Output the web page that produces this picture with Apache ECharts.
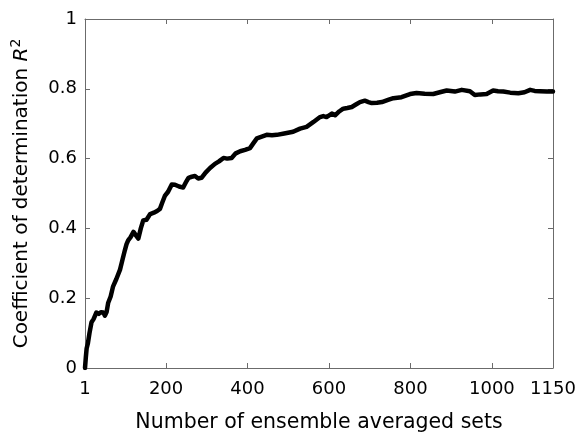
<!DOCTYPE html>
<html>
<head>
<meta charset="utf-8">
<script src="https://cdn.jsdelivr.net/npm/echarts@6/dist/echarts.min.js"></script>
<style>
html,body{margin:0;padding:0;background:#fff;}
#chart{width:584px;height:438px;}
</style>
</head>
<body>
<div id="chart"></div>
<script>
const xValues = [1,3,5,8,12,17,22,29,35,40,46,50,54,58,64,70,78,87,93,99,103,107,113,120,126,132,138,144,152,161,170,178,185,191,197,205,214,222,232,242,250,255,263,271,279,287,297,308,320,330,341,350,361,371,382,394,406,415,423,435,447,460,472,490,512,529,545,562,578,586,594,607,615,625,635,645,656,666,676,688,697,705,718,730,745,758,778,799,815,835,856,872,889,909,926,946,958,972,987,1003,1015,1028,1045,1065,1080,1094,1105,1118,1135,1150];
const r2Values = [0,0.03,0.056,0.07,0.1,0.131,0.14,0.159,0.155,0.16,0.159,0.15,0.16,0.187,0.205,0.234,0.255,0.282,0.31,0.338,0.355,0.366,0.375,0.39,0.38,0.371,0.4,0.423,0.425,0.441,0.445,0.45,0.456,0.475,0.493,0.505,0.526,0.525,0.52,0.517,0.535,0.545,0.548,0.55,0.543,0.545,0.56,0.573,0.585,0.592,0.602,0.6,0.602,0.615,0.621,0.625,0.63,0.645,0.658,0.663,0.668,0.667,0.668,0.672,0.677,0.686,0.691,0.705,0.719,0.722,0.719,0.729,0.724,0.735,0.743,0.745,0.748,0.755,0.762,0.766,0.762,0.759,0.76,0.762,0.768,0.773,0.776,0.785,0.788,0.786,0.785,0.79,0.795,0.792,0.797,0.793,0.782,0.784,0.785,0.795,0.793,0.792,0.789,0.787,0.79,0.797,0.794,0.793,0.792,0.792];
const xTicks = [1,200,400,600,800,1000,1150];
const yTicks = [0,0.2,0.4,0.6,0.8,1];
const xTitle = 'Number of ensemble averaged sets';
const yTitleText = 'Coefficient of determination ';
const yTitleVar = 'R';
const yTitleSup = '2';

const FONT = 'DejaVu Sans';
const AX = '#6b6b6b';
const chart = echarts.init(document.getElementById('chart'), null, {renderer:'canvas'});
const pts = xValues.map((x,i)=>[x, r2Values[i]]);
const yFmt = v => (v===0||v===1) ? String(v) : v.toFixed(1);

chart.setOption({
  animation:false,
  backgroundColor:'#fff',
  grid:{left:85,right:31,top:19,bottom:65,containLabel:false},
  xAxis:[{
    type:'value',min:1,max:1150,position:'bottom',
    axisLine:{show:true,onZero:false,lineStyle:{color:AX,width:1}},
    axisTick:{show:true,inside:true,length:5,customValues:xTicks,lineStyle:{color:AX}},
    axisLabel:{customValues:xTicks,color:'#000',fontFamily:FONT,fontSize:18,margin:12,formatter:v=>String(v)},
    splitLine:{show:false},
    name:xTitle,nameLocation:'middle',nameGap:44,
    nameTextStyle:{color:'#000',fontFamily:FONT,fontSize:20.5}
  },{
    type:'value',min:1,max:1150,position:'top',
    axisLine:{show:true,onZero:false,lineStyle:{color:AX,width:1}},
    axisTick:{show:true,inside:true,length:5,customValues:xTicks,lineStyle:{color:AX}},
    axisLabel:{show:false},splitLine:{show:false}
  }],
  yAxis:[{
    type:'value',min:0,max:1,interval:0.2,position:'left',
    axisLine:{show:true,onZero:false,lineStyle:{color:AX,width:1}},
    axisTick:{show:true,inside:true,length:5,lineStyle:{color:AX}},
    axisLabel:{color:'#000',fontFamily:FONT,fontSize:18,margin:8,formatter:yFmt},
    splitLine:{show:false},
    name:'{t|'+yTitleText+'}{i|'+yTitleVar+'}{s|'+yTitleSup+'}',
    nameLocation:'middle',nameGap:50,nameRotate:90,
    nameTextStyle:{color:'#000',fontFamily:FONT,fontSize:20,
      rich:{
        t:{fontFamily:FONT,fontSize:20,color:'#000'},
        i:{fontFamily:FONT,fontSize:20,fontStyle:'italic',color:'#000'},
        s:{fontFamily:FONT,fontSize:14,color:'#000',verticalAlign:'top',padding:[0,0,12,0]}
      }}
  },{
    type:'value',min:0,max:1,interval:0.2,position:'right',
    axisLine:{show:true,onZero:false,lineStyle:{color:AX,width:1}},
    axisTick:{show:true,inside:true,length:5,lineStyle:{color:AX}},
    axisLabel:{show:false},splitLine:{show:false}
  }],
  series:[{
    type:'line',data:pts,xAxisIndex:0,yAxisIndex:0,
    showSymbol:false,symbol:'none',smooth:false,
    lineStyle:{color:'#000',width:4.5,join:'round',cap:'round'},
    clip:true
  }]
});
</script>
</body>
</html>
